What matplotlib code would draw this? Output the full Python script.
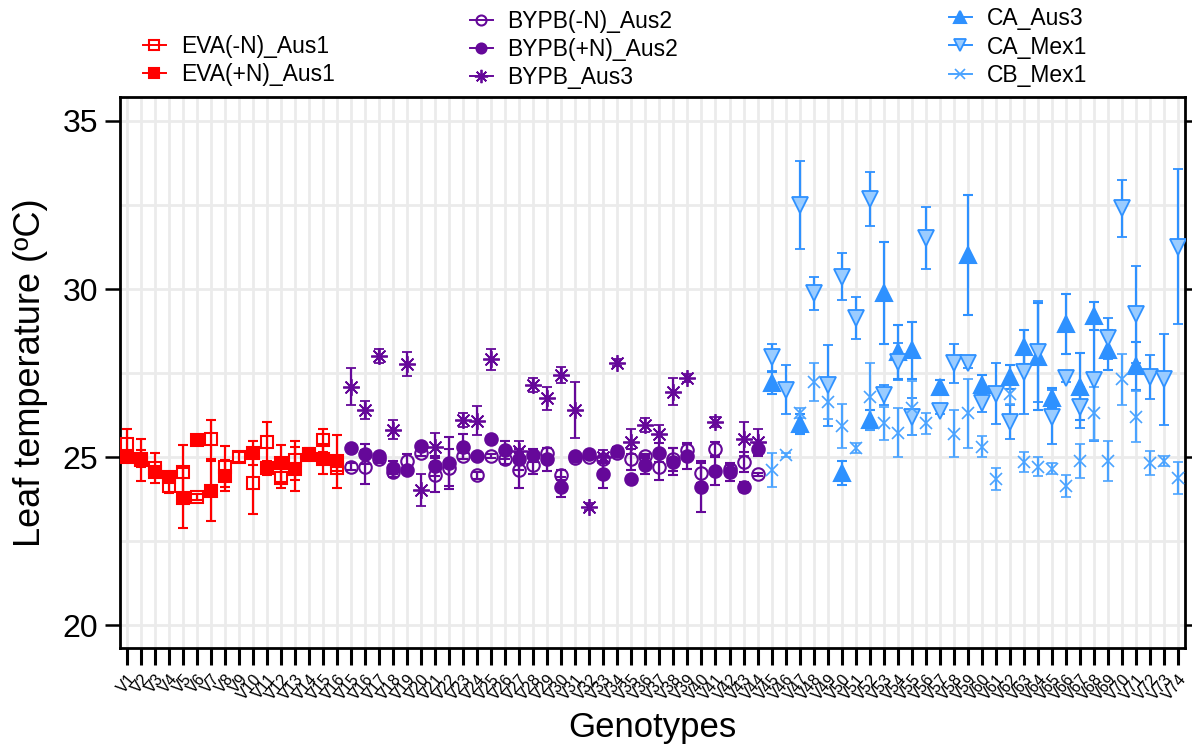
import numpy as np
import matplotlib
matplotlib.use("Agg")
import matplotlib.pyplot as plt
from matplotlib.lines import Line2D

plt.rcParams['font.family'] = ['Liberation Sans', 'DejaVu Sans']

nan = np.nan

# tick labels (as printed on the original x axis)
genotype_labels = ['V%d' % i for i in range(1, 17)] + ['V%d' % i for i in range(15, 75)]
positions = np.arange(1, len(genotype_labels) + 1)

# EVA group (positions 1-16)
eva_minus = [25.40, 24.95, 24.68, 24.13, 24.55, 23.81, 25.53, 24.72, 25.01, 24.23, 25.45, 24.38, 24.90, 25.05, 25.50, 24.68]
eva_minus_err = [0.45, 0.25, 0.45, 0.2, 0.8, 0.1, 0.58, 0.6, 0.15, 0.92, 0.6, 0.3, 0.58, 0.1, 0.35, 0.1]
eva_plus = [25.00, 24.92, 24.57, 24.40, 23.79, 25.50, 23.99, 24.45, nan, 25.12, 24.67, 24.82, 24.65, 25.08, 24.95, 24.88]
eva_plus_err = [0.12, 0.62, 0.15, 0.1, 0.9, 0.05, 0.9, 0.45, nan, 0.36, 0.2, 0.55, 0.65, 0.18, 0.45, 0.79]

# BYPB group (positions 17-46)
bypb_minus = [24.72, 24.71, 24.93, 24.56, 24.88, 25.13, 24.46, 24.68, 25.03, 24.46, 25.03, 24.93, 24.61, 24.76, 25.13,
              24.46, 24.96, 25.01, 24.93, 25.13, 24.93, 25.03, 24.71, 24.93, 25.21, 24.53, 25.23, 24.66, 24.86, 24.49]
bypb_minus_err = [0.1, 0.5, 0.1, 0.15, 0.2, 0.1, 0.5, 0.55, 0.1, 0.1, 0.05, 0.15, 0.52, 0.25, 0.15,
                  0.15, 0.05, 0.05, 0.1, 0.1, 0.3, 0.05, 0.4, 0.35, 0.2, 0.3, 0.23, 0.1, 0.3, 0.05]
bypb_plus = [25.27, 25.09, 25.03, 24.69, 24.63, 25.33, 24.73, 24.83, 25.31, 25.03, 25.55, 25.21, 24.93, 25.05, 24.93,
             24.12, 25.03, 25.09, 24.49, 25.19, 24.36, 24.76, 25.13, 24.86, 25.03, 24.12, 24.59, 24.56, 24.10, 25.23]
bypb_plus_err = [0.05, 0.3, 0.1, 0.2, 0.05, 0.05, 0.3, 0.78, 0.38, 0.05, 0.05, 0.28, 0.3, 0.2, 0.33,
                 0.3, 0.05, 0.05, 0.4, 0.1, 0.05, 0.27, 0.28, 0.4, 0.37, 0.75, 0.43, 0.27, 0.15, 0.2]
bypb_aus3 = [27.10, 26.40, 28.01, 25.82, 27.77, 24.02, 25.29, nan, 26.10, 26.08, 27.91, nan, 25.19, 27.14, 26.75,
             27.44, 26.40, 23.52, 25.01, 27.81, 25.46, 25.95, 25.68, 26.94, 27.36, nan, 26.05, nan, 25.53, 25.46]
bypb_aus3_err = [0.55, 0.28, 0.2, 0.27, 0.37, 0.47, 0.43, nan, 0.2, 0.43, 0.32, nan, 0.3, 0.2, 0.35,
                 0.24, 0.83, 0.1, 0.2, 0.1, 0.37, 0.2, 0.27, 0.4, 0.12, nan, 0.15, nan, 0.5, 0.37]

# C group (positions 47-76)
ca_aus3 = [27.21, nan, 25.98, nan, nan, 24.53, nan, 26.10, 29.87, 28.13, 28.18, nan, 27.09, nan, 31.01,
           27.14, nan, 27.39, 28.28, 27.99, 26.75, 28.96, 27.09, 29.20, 28.18, nan, 27.71, nan, nan, nan]
ca_aus3_err = [0.33, nan, 0.3, nan, nan, 0.35, nan, 0.3, 1.52, 0.8, 0.85, nan, 0.2, nan, 1.78,
               0.3, nan, 0.35, 0.5, 1.6, 0.3, 0.9, 1.0, 0.42, 0.6, nan, 0.7, nan, nan, nan]
ca_mex1 = [27.97, 27.01, 32.50, 29.87, 27.14, 30.37, 29.13, 32.68, 26.85, 27.84, 26.20, 31.51, 26.37, 27.79, 27.81,
           26.60, 26.89, 26.05, 27.54, 28.13, 26.20, 27.34, 26.48, 27.29, 28.53, 32.40, 29.25, 27.39, 27.31, 31.26]
ca_mex1_err = [0.4, 0.72, 1.3, 0.5, 1.2, 0.71, 0.63, 0.8, 0.3, 0.55, 0.55, 0.92, 0.1, 0.58, 0.15,
               0.25, 0.9, 0.5, 1.25, 1.5, 0.8, 0.1, 0.6, 1.8, 0.6, 0.85, 1.45, 0.65, 1.35, 2.3]
cb_mex1 = [24.61, 25.06, 26.30, 27.24, 26.65, 25.92, 25.26, 26.80, 26.00, 25.72, 26.45, 26.00, nan, 25.70, 26.30,
           25.31, 24.34, 26.89, 24.86, 24.71, 24.66, 24.14, 24.89, 26.30, 24.89, 27.31, 26.20, 24.83, 24.89, 24.37]
cb_mex1_err = [0.5, 0.05, 0.15, 0.56, 0.53, 0.66, 0.15, 1.0, 0.5, 0.73, 0.8, 0.3, nan, 0.7, 1.03,
               0.31, 0.33, 0.3, 0.3, 0.28, 0.15, 0.32, 0.5, 0.8, 0.6, 0.75, 0.76, 0.35, 0.15, 0.47]

RED = '#FF0000'
PURPLE = '#650899'
BLUE = '#2E91FF'
LIGHTBLUE = '#9ACCFF'
XBLUE = '#4AA3FF'
ASTERISK = (8, 2, 0)

fig = plt.figure(figsize=(11.92, 7.47), dpi=100)
ax = fig.add_axes([0.1007, 0.1325, 0.8933, 0.7375])

x_eva = positions[:16]
x_bypb = positions[16:46]
x_c = positions[46:]


def draw(x, y, err, color, marker, ms, mfc, mew=1.5, zorder=3):
    ax.errorbar(x, y, yerr=err, fmt='', linestyle='none', marker=marker,
                color=color, ms=ms, mfc=mfc, mec=color, mew=mew,
                elinewidth=1.6, capsize=3.5, capthick=1.6, zorder=zorder)
    # legend handle: marker with a short line through it
    return Line2D([], [], color=color, lw=1.4, marker=marker, ms=ms * 0.8, mfc=mfc, mec=color, mew=mew)


h1 = draw(x_eva, eva_minus, eva_minus_err, RED, 's', 9, 'none')
h2 = draw(x_eva, eva_plus, eva_plus_err, RED, 's', 9, RED)
h3 = draw(x_bypb, bypb_minus, bypb_minus_err, PURPLE, 'o', 9, 'none')
h4 = draw(x_bypb, bypb_plus, bypb_plus_err, PURPLE, 'o', 9, PURPLE)
h5 = draw(x_bypb, bypb_aus3, bypb_aus3_err, PURPLE, ASTERISK, 12, PURPLE, mew=1.3)
h6 = draw(x_c, ca_aus3, ca_aus3_err, BLUE, '^', 11, BLUE)
h7 = draw(x_c, ca_mex1, ca_mex1_err, BLUE, 'v', 11, LIGHTBLUE, mew=1.3)
h8 = draw(x_c, cb_mex1, cb_mex1_err, XBLUE, 'x', 9, 'none', mew=1.2)

ax.set_xlim(0.5, 76.5)
ax.set_ylim(19.32, 35.71)
ax.set_xticks(positions)
ax.set_xticklabels(genotype_labels, rotation=50, ha='right', va='top', rotation_mode='anchor', fontsize=11.5)
ax.set_yticks([20, 25, 30, 35])
ax.set_yticks(np.arange(20, 36, 2.5), minor=True)
ax.tick_params(axis='y', which='major', labelsize=23, length=11, width=1.8, direction='out', right=True, pad=5)
ax.tick_params(axis='y', which='minor', length=0)
ax.tick_params(axis='x', length=12, width=2.2, direction='out', pad=5)
ax.grid(True, axis='x', color='#EBEBEB', lw=2, zorder=0)
ax.grid(True, axis='y', which='both', color='#EBEBEB', lw=2, zorder=0)
ax.set_axisbelow(True)
for s in ax.spines.values():
    s.set_linewidth(2)

ax.set_ylabel('Leaf temperature (ºC)', fontsize=26, labelpad=10)
fig.text(0.547, 0.013, 'Genotypes', fontsize=25, ha='center', va='baseline')

leg_kw = dict(frameon=False, fontsize=16.5, loc='upper left', handlelength=1.0, handletextpad=0.65,
              labelspacing=0.22, borderaxespad=0, borderpad=0)
fig.legend([h1, h2], ['EVA(-N)_Aus1', 'EVA(+N)_Aus1'], bbox_to_anchor=(0.12, 0.953), **leg_kw)
fig.legend([h3, h4, h5], ['BYPB(-N)_Aus2', 'BYPB(+N)_Aus2', 'BYPB_Aus3'],
           bbox_to_anchor=(0.394, 0.987), **leg_kw)
fig.legend([h6, h7, h8], ['CA_Aus3', 'CA_Mex1', 'CB_Mex1'], bbox_to_anchor=(0.796, 0.99), **leg_kw)

fig.savefig('out.png', dpi=100)
